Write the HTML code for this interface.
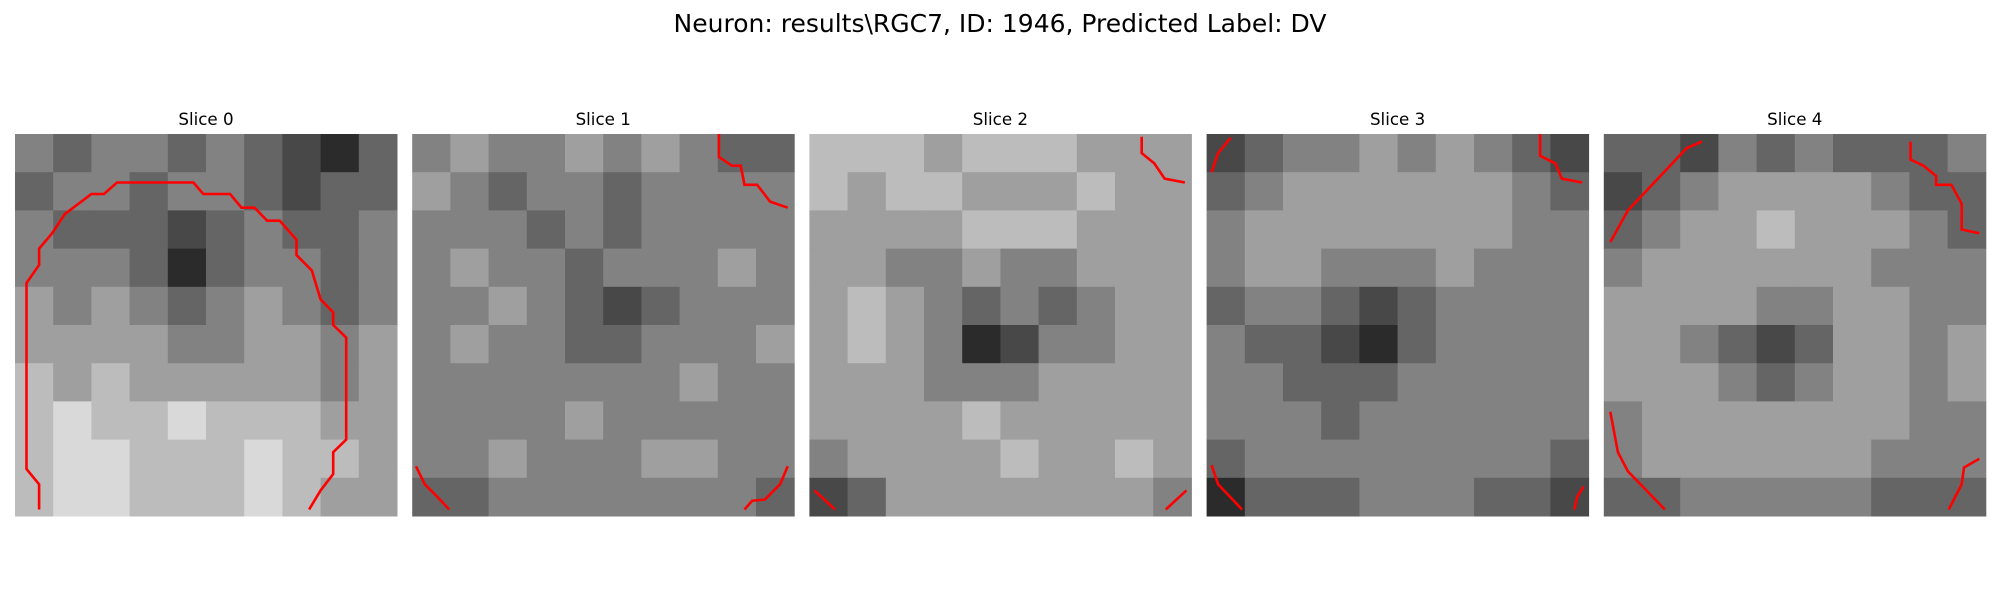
<!DOCTYPE html>
<html><head><meta charset="utf-8"><style>
html,body{margin:0;padding:0;background:#fff;width:2000px;height:600px;overflow:hidden}
svg{display:block}
text{font-family:"DejaVu Sans","Liberation Sans",sans-serif;fill:#000}
</style></head><body>
<svg id="fig" width="2000" height="600" viewBox="0 0 2000 600">
<text x="1000" y="32" font-size="25" text-anchor="middle">Neuron: results\RGC7, ID: 1946, Predicted Label: DV</text>
</svg>
<script>
const sliceTitles=["Slice 0","Slice 1","Slice 2","Slice 3","Slice 4"];
const slice0=[[5,4,5,5,4,5,4,3,2,4],[4,5,5,4,5,5,4,3,4,4],[5,4,4,4,3,4,5,4,4,5],[5,5,5,4,2,4,5,5,4,5],[6,5,6,5,4,5,6,5,4,5],[6,6,6,6,5,5,6,6,5,6],[7,6,7,6,6,6,6,6,5,6],[7,8,7,7,8,7,7,7,6,6],[7,8,8,7,7,7,8,7,7,6],[7,8,8,7,7,7,8,7,6,6]];
const slice1=[[5,6,5,5,6,5,6,5,4,4],[6,5,4,5,5,4,5,5,5,5],[5,5,5,4,5,4,5,5,5,5],[5,6,5,5,4,5,5,5,6,5],[5,5,6,5,4,3,4,5,5,5],[5,6,5,5,4,4,5,5,5,6],[5,5,5,5,5,5,5,6,5,5],[5,5,5,5,6,5,5,5,5,5],[5,5,6,5,5,5,6,6,5,5],[4,4,5,5,5,5,5,5,5,4]];
const slice2=[[7,7,7,6,7,7,7,6,6,6],[7,6,7,7,6,6,6,7,6,6],[6,6,6,6,7,7,7,6,6,6],[6,6,5,5,6,5,5,6,6,6],[6,7,6,5,4,5,4,5,6,6],[6,7,6,5,2,3,5,5,6,6],[6,6,6,5,5,5,6,6,6,6],[6,6,6,6,7,6,6,6,6,6],[5,6,6,6,6,7,6,6,7,6],[3,4,6,6,6,6,6,6,6,5]];
const slice3=[[3,4,5,5,6,5,6,5,4,3],[4,5,6,6,6,6,6,6,5,4],[5,6,6,6,6,6,6,6,5,5],[5,6,6,5,5,5,6,5,5,5],[4,5,5,4,3,4,5,5,5,5],[5,4,4,3,2,4,5,5,5,5],[5,5,4,4,4,5,5,5,5,5],[5,5,5,4,5,5,5,5,5,5],[4,5,5,5,5,5,5,5,5,4],[2,4,4,4,5,5,5,4,4,3]];
const slice4=[[4,4,3,5,4,5,4,4,4,5],[3,4,5,6,6,6,6,5,4,4],[4,5,6,6,7,6,6,6,5,4],[5,6,6,6,6,6,6,5,5,5],[6,6,6,6,5,5,6,6,5,5],[6,6,5,4,3,4,6,6,5,6],[6,6,6,5,4,5,6,6,5,6],[5,6,6,6,6,6,6,6,5,5],[5,6,6,6,6,6,6,5,5,5],[4,4,5,5,5,5,5,4,4,4]];
const slices=[slice0,slice1,slice2,slice3,slice4];
const contours0=[[[.063,.983],[.063,.917],[.03,.877],[.03,.39],[.063,.343],[.063,.3],[.097,.26],[.13,.21],[.2,.157],[.233,.157],[.267,.127],[.467,.127],[.493,.157],[.563,.157],[.593,.193],[.627,.193],[.66,.227],[.693,.227],[.737,.277],[.737,.317],[.777,.357],[.8,.433],[.833,.467],[.833,.5],[.867,.533],[.867,.8],[.833,.833],[.833,.89],[.8,.933],[.77,.983]]];
const contours1=[[[.803,0],[.803,.06],[.837,.083],[.86,.083],[.87,.133],[.903,.133],[.937,.177],[.983,.193]],[[.01,.87],[.033,.917],[.063,.947],[.097,.983]],[[.87,.983],[.89,.96],[.923,.957],[.963,.917],[.983,.87]]];
const contours2=[[[.87,.007],[.87,.05],[.903,.077],[.93,.117],[.983,.127]],[[.013,.933],[.067,.983]],[[.933,.983],[.987,.933]]];
const contours3=[[[.063,.01],[.03,.05],[.013,.1]],[[.873,0],[.873,.057],[.913,.077],[.93,.117],[.983,.127]],[[.013,.867],[.03,.917],[.093,.983]],[[.963,.983],[.97,.95],[.987,.923]]];
const contours4=[[[.257,.02],[.217,.037],[.063,.2],[.017,.283]],[[.803,.02],[.803,.067],[.837,.083],[.87,.11],[.87,.133],[.91,.133],[.937,.183],[.937,.25],[.983,.26]],[[.017,.727],[.037,.833],[.063,.883],[.16,.983]],[[.903,.983],[.937,.917],[.943,.873],[.983,.85]]];
const contours=[contours0,contours1,contours2,contours3,contours4];

const NS="http://www.w3.org/2000/svg";
const svg=document.getElementById('fig');
const panelX=i=>15+i*397.2, panelY=134, panelW=382, panelH=382;
function gray(v){const g=Math.max(0,Math.min(255,Math.round((v-0.5)/8.8*255)));return `rgb(${g},${g},${g})`;}
slices.forEach((grid,i)=>{
  const g=document.createElementNS(NS,'g');
  
  
  svg.appendChild(g);
  const t=document.createElementNS(NS,'text');
  
  
  t.setAttribute('x',panelX(i)+panelW/2);t.setAttribute('y',125);
  t.setAttribute('font-size','16.7');t.setAttribute('text-anchor','middle');
  t.textContent=sliceTitles[i];g.appendChild(t);
  const rows=grid.length, cols=grid[0].length;
  const cw=panelW/cols, ch=panelH/rows;
  grid.forEach((row,r)=>row.forEach((v,c)=>{
    const rc=document.createElementNS(NS,'rect');
    
    
    rc.setAttribute('x',(panelX(i)+c*cw).toFixed(2));
    rc.setAttribute('y',(panelY+r*ch).toFixed(2));
    rc.setAttribute('width',(cw+0.5).toFixed(2));
    rc.setAttribute('height',(ch+0.5).toFixed(2));
    rc.setAttribute('fill',gray(v));
    g.appendChild(rc);
  }));
  contours[i].forEach(pts=>{
    const pl=document.createElementNS(NS,'polyline');
    
    
    pl.setAttribute('points',pts.map(p=>(panelX(i)+p[0]*panelW).toFixed(1)+','+(panelY+p[1]*panelH).toFixed(1)).join(' '));
    pl.setAttribute('fill','none');pl.setAttribute('stroke','#ff0000');pl.setAttribute('stroke-width','2.6');
    g.appendChild(pl);
  });
});
</script>
</body></html>
